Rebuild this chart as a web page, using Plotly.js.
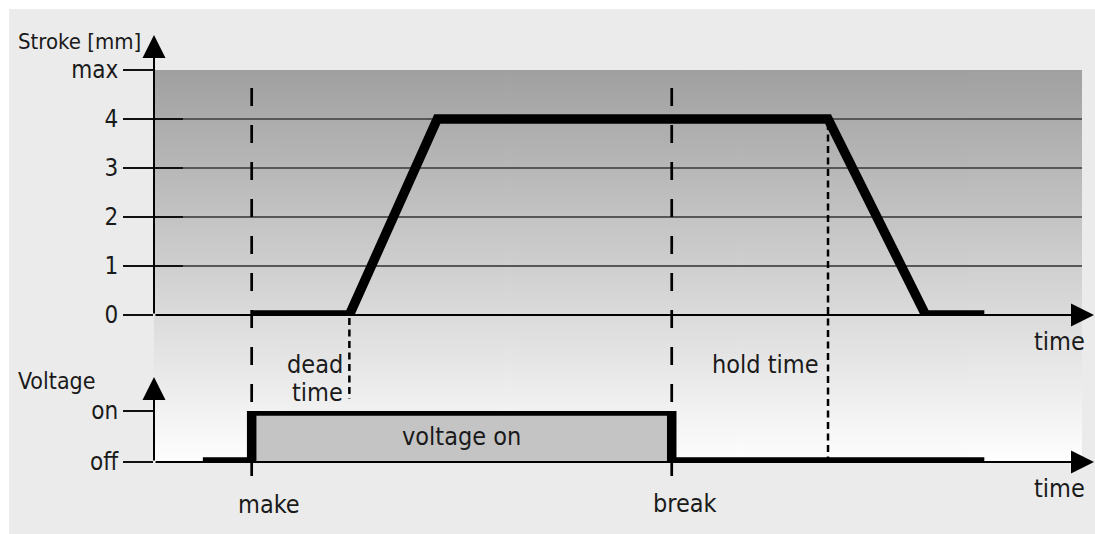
<!DOCTYPE html>
<html><head><meta charset="utf-8">
<script src="https://cdn.plot.ly/plotly-3.0.1.min.js"></script>
<style>html,body{margin:0;padding:0;background:#fff}#chart{width:1095px;height:534px}</style>
</head><body><div id="chart"></div><script>
// ---- data ----
const strokeTime   = [10, 20, 29, 69, 79, 85];
const strokeValue  = [0, 0, 4, 4, 0, 0];
const voltageTime  = [5, 10, 10, 53, 53, 85];
const voltageValue = [0, 0, 1, 1, 0, 0];
const strokeTickVals = [0, 1, 2, 3, 4, 5];
const strokeTickText = ['0', '1', '2', '3', '4', 'max'];
const voltageTickVals = [0, 1];
const voltageTickText = ['off', 'on'];
const makeTime = 10, deadEndTime = 20, breakTime = 53, holdEndTime = 69;
const timeRange = [0, 95];

// ---- layout helpers ----
const W = 1095, H = 534;
const px = x => x / W, py = y => 1 - y / H;
const FONT = '"DejaVu Sans Condensed", "DejaVu Sans", sans-serif';
const FS = 25, TXT = '#1a1a1a';

function gradientURL() {
  const c = document.createElement('canvas');
  c.width = 4; c.height = 392;
  const g = c.getContext('2d');
  const gr = g.createLinearGradient(0, 0, 0, 392);
  gr.addColorStop(0, '#a0a0a0');
  gr.addColorStop(1, '#fefefe');
  g.fillStyle = gr; g.fillRect(0, 0, 4, 392);
  return c.toDataURL();
}

const traces = [
  {x: voltageTime, y: voltageValue, xaxis: 'x', yaxis: 'y2', mode: 'lines', fill: 'tozeroy',
   fillcolor: '#c4c4c4', line: {color: '#000', width: 9.5}, hoverinfo: 'skip'},
  {x: strokeTime, y: strokeValue, xaxis: 'x', yaxis: 'y', mode: 'lines',
   line: {color: '#000', width: 9.5}, hoverinfo: 'skip'},
  // invisible anchors so the overlaid tick-only axes get drawn
  {x: [strokeTime[0]], y: [strokeValue[0]], xaxis: 'x', yaxis: 'y3', mode: 'markers',
   marker: {opacity: 0}, hoverinfo: 'skip'},
  {x: [voltageTime[0]], y: [voltageValue[0]], xaxis: 'x', yaxis: 'y4', mode: 'markers',
   marker: {opacity: 0}, hoverinfo: 'skip'}
];

const tickCommon = {tickwidth: 2, tickcolor: '#111', zeroline: false, showline: false, fixedrange: true};

function vdash(x, yTop, yBot, dash, width) {
  return {type: 'line', xref: 'x', yref: 'paper', x0: x, x1: x, y0: py(yTop), y1: py(yBot),
          line: {color: '#000', width: width, dash: dash}, layer: 'above'};
}
function label(text, opts, size) {
  return Object.assign({text: text, showarrow: false, font: {family: FONT, size: size || FS, color: TXT},
                        yanchor: 'middle'}, opts);
}
function axisArrow(opts) {
  return Object.assign({text: '', showarrow: true, arrowhead: 2, arrowwidth: 2, arrowsize: 2.3,
                        arrowcolor: '#000', standoff: 0, axref: 'pixel', ayref: 'pixel'}, opts);
}

const layout = {
  width: W, height: H, margin: {l: 0, r: 0, t: 0, b: 0},
  paper_bgcolor: '#ebebeb', plot_bgcolor: 'rgba(0,0,0,0)', showlegend: false,
  font: {family: FONT, size: FS, color: TXT},
  xaxis: {domain: [px(154), px(1082)], range: timeRange, visible: false, fixedrange: true},
  yaxis: Object.assign({domain: [py(315), py(70)], range: [0, 5], anchor: 'x',
    tickvals: strokeTickVals, ticktext: strokeTickText, ticks: 'outside', ticklen: 30,
    showgrid: true, gridcolor: '#575757', gridwidth: 1.3,
    tickfont: {family: FONT, size: 24, color: TXT}}, tickCommon),
  yaxis3: Object.assign({overlaying: 'y', anchor: 'x', side: 'left', range: [0, 5],
    tickvals: strokeTickVals, ticks: 'inside', ticklen: 29, showticklabels: false, showgrid: false}, tickCommon),
  yaxis2: Object.assign({domain: [py(462), py(411)], range: [0, 1], anchor: 'x',
    tickvals: voltageTickVals, ticktext: voltageTickText, ticks: 'outside', ticklen: 30, showgrid: false,
    tickfont: {family: FONT, size: 24, color: TXT}}, tickCommon),
  yaxis4: Object.assign({overlaying: 'y2', anchor: 'x', side: 'left', range: [0, 1],
    tickvals: voltageTickVals, ticks: 'inside', ticklen: 29, showticklabels: false, showgrid: false}, tickCommon),
  images: [{source: gradientURL(), xref: 'paper', yref: 'paper', x: px(154), y: py(70),
            sizex: px(1082) - px(154), sizey: py(70) - py(462), sizing: 'stretch',
            xanchor: 'left', yanchor: 'top', layer: 'below'}],
  shapes: [
    {type: 'rect', xref: 'paper', yref: 'paper', x0: 0, x1: 1, y0: py(9), y1: 1, fillcolor: '#fff', line: {width: 0}, layer: 'below'},
    {type: 'rect', xref: 'paper', yref: 'paper', x0: 0, x1: px(9), y0: 0, y1: 1, fillcolor: '#fff', line: {width: 0}, layer: 'below'},
    vdash(makeTime, 88, 476, '18px,19px', 2.7),
    vdash(breakTime, 88, 476, '18px,19px', 2.7),
    vdash(deadEndTime, 318, 399, '7px,4.5px', 2.5),
    vdash(holdEndTime, 123, 460, '7px,4.5px', 2.5)
  ],
  annotations: [
    axisArrow({xref: 'x', yref: 'paper', x: 0, y: py(35), ax: 0, ay: 280}),
    axisArrow({xref: 'paper', yref: 'y', x: px(1095), y: 0, ax: -941, ay: 0}),
    axisArrow({xref: 'x', yref: 'paper', x: 0, y: py(377), ax: 0, ay: 85}),
    axisArrow({xref: 'paper', yref: 'y2', x: px(1095), y: 0, ax: -941, ay: 0}),
    label('Stroke [mm]', {xref: 'paper', yref: 'paper', x: px(16), y: py(42), xanchor: 'left'}, 22),
    label('Voltage', {xref: 'paper', yref: 'paper', x: px(16), y: py(381), xanchor: 'left'}, 23),
    label('time', {xref: 'paper', yref: 'paper', x: px(1087), y: py(341), xanchor: 'right'}),
    label('time', {xref: 'paper', yref: 'paper', x: px(1087), y: py(488), xanchor: 'right'}),
    label('dead', {xref: 'x', yref: 'paper', x: deadEndTime, xshift: -4, y: py(364), xanchor: 'right'}),
    label('time', {xref: 'x', yref: 'paper', x: deadEndTime, xshift: -4, y: py(392), xanchor: 'right'}),
    label('hold time', {xref: 'x', yref: 'paper', x: holdEndTime, xshift: -7, y: py(364), xanchor: 'right'}),
    label('voltage on', {xref: 'x', yref: 'y2', x: (makeTime + breakTime) / 2, y: 0.5, xanchor: 'center'}),
    label('make', {xref: 'x', yref: 'paper', x: makeTime, xshift: 17, y: py(504), xanchor: 'center'}),
    label('break', {xref: 'x', yref: 'paper', x: breakTime, xshift: 13, y: py(503), xanchor: 'center'})
  ]
};

Plotly.newPlot('chart', traces, layout, {staticPlot: true, displayModeBar: false});
</script></body></html>
